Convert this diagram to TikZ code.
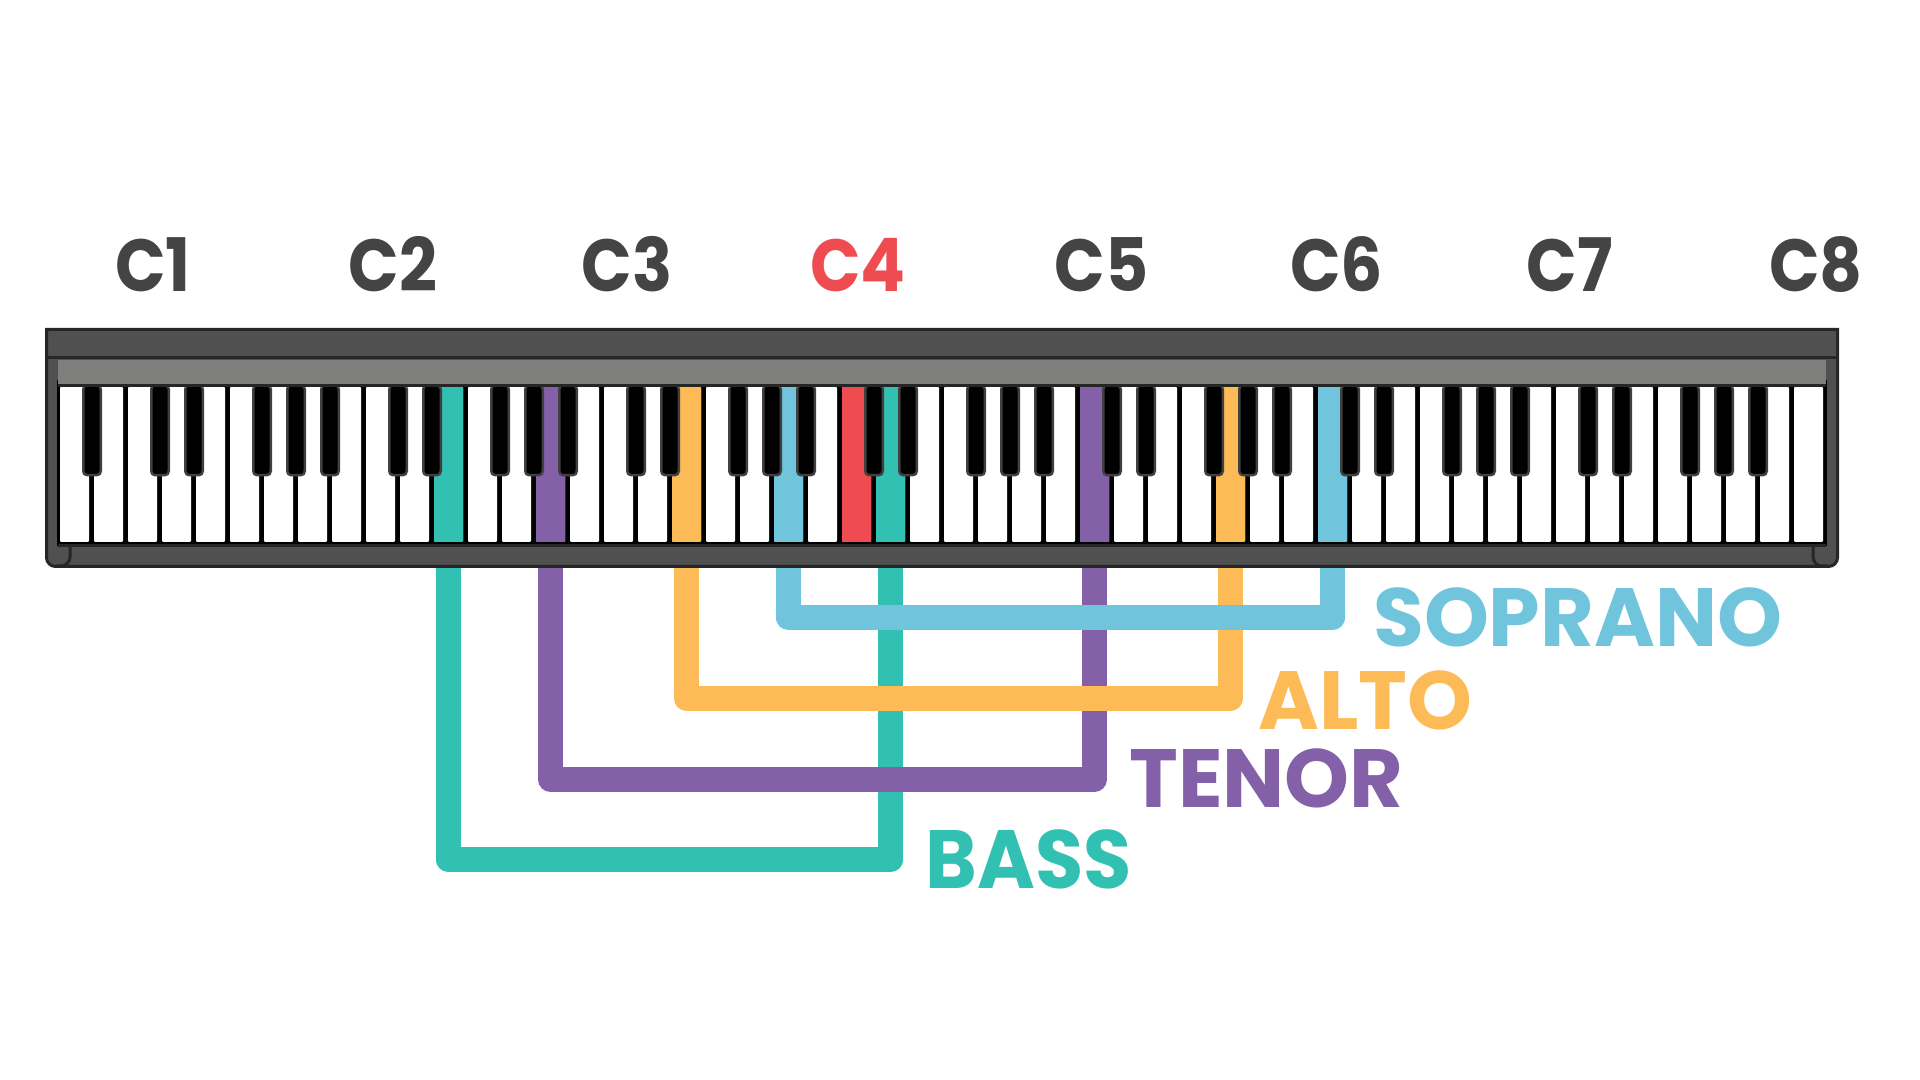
\documentclass[tikz,border=0pt]{standalone}
\usepackage{fontspec}
\setmainfont{Poppins Bold}
\newfontfamily\octavefont{Poppins Bold}[FakeStretch=0.9]
\newfontfamily\bassfont{Poppins Bold}[FakeStretch=0.95]

\definecolor{bassteal}{HTML}{32C0B3}
\definecolor{tenorpurple}{HTML}{8460A8}
\definecolor{altoorange}{HTML}{FDBB57}
\definecolor{sopranoblue}{HTML}{70C4DC}
\definecolor{middlered}{HTML}{EE4C50}
\definecolor{casegray}{HTML}{505050}
\definecolor{bargray}{HTML}{7E7F7D}
\definecolor{labelgray}{HTML}{444444}

\begin{document}
\begin{tikzpicture}
        % Define styles
        \tikzset{
            whitekey/.style={rectangle, fill=white, minimum width=0.29cm, minimum height=1.55cm, inner sep=0pt, rounded corners=0.1mm},
            blackkey/.style={rectangle, fill=black, draw=black!75, line width=0.25mm, minimum width=0.175cm, minimum height=0.90cm, inner sep=0pt, anchor=north, rounded corners=0.4mm},
            frameline/.style={draw=black!85, line width=0.3mm},
            voice/.style={line width=2.5mm, line join=round},
            octave/.style={font=\fontsize{21}{24}\octavefont, text=labelgray, inner sep=0pt, anchor=base},
            voicename/.style={font=\fontsize{23.5}{26}\selectfont, inner sep=0pt, anchor=base west}
        }
        \useasboundingbox (0,0) rectangle (19.2,10.8);

        % Case
        \draw[frameline, fill=casegray] (0.465,7.505) -- (18.375,7.505) [rounded corners=0.9mm] -- (18.375,5.135) -- (0.465,5.135) [sharp corners] -- cycle;
        \draw[frameline] (0.465,7.22) -- (18.375,7.22);
        \fill[black] (0.57,5.34) rectangle (18.27,7.00);
        \draw[frameline] (0.70,5.34) -- (0.70,5.23) arc[start angle=0, end angle=-90, radius=0.09] -- (0.56,5.14);
        \draw[frameline] (18.13,5.34) -- (18.13,5.23) arc[start angle=180, end angle=270, radius=0.09] -- (18.27,5.14);
        \coordinate (case_bottom) at (0,5.12);

        % Keys
        \foreach \i in {0,...,51} {
            \node[whitekey] (key_\i) at ({0.745+0.34*\i},6.155) {};
        }
        \node[whitekey, fill=bassteal] (key_11) at ({0.745+0.34*11},6.155) {};
        \node[whitekey, fill=tenorpurple] (key_14) at ({0.745+0.34*14},6.155) {};
        \node[whitekey, fill=altoorange] (key_18) at ({0.745+0.34*18},6.155) {};
        \node[whitekey, fill=sopranoblue] (key_21) at ({0.745+0.34*21},6.155) {};
        \node[whitekey, fill=middlered] (key_23) at ({0.745+0.34*23},6.155) {};
        \node[whitekey, fill=bassteal] (key_24) at ({0.745+0.34*24},6.155) {};
        \node[whitekey, fill=tenorpurple] (key_30) at ({0.745+0.34*30},6.155) {};
        \node[whitekey, fill=altoorange] (key_34) at ({0.745+0.34*34},6.155) {};
        \node[whitekey, fill=sopranoblue] (key_37) at ({0.745+0.34*37},6.155) {};

        \node[blackkey] (sharp_1) at ({0.58+0.34*1},6.96) {};
        \foreach \k in {0,...,6} {
            \foreach \b in {3,4,6,7,8} {
                \node[blackkey] (sharp_\k_\b) at ({0.58+0.34*(\b+7*\k)},6.96) {};
            }
        }
        \fill[bargray] (0.58,6.94) rectangle (18.26,7.20);
        \draw[black!85, line width=0.3mm] (0.58,6.94) -- (18.26,6.94);
        \draw[black!85, line width=0.3mm] (0.58,5.34) -- (18.26,5.34);

        % Octave labels
        \node[octave] (label_c1) at (1.53,7.88) {C1};
        \node[octave] (label_c2) at (3.93,7.88) {C2};
        \node[octave] (label_c3) at (6.27,7.88) {C3};
        \node[octave, text=middlered] (label_c4) at (8.58,7.88) {C4};
        \node[octave] (label_c5) at (11.015,7.88) {C5};
        \node[octave] (label_c6) at (13.365,7.88) {C6};
        \node[octave] (label_c7) at (15.70,7.88) {C7};
        \node[octave] (label_c8) at (18.16,7.88) {C8};

        % Voice ranges
        \coordinate (bass_level) at (0,2.20);
        \coordinate (tenor_level) at (0,3.005);
        \coordinate (alto_level) at (0,3.815);
        \coordinate (soprano_level) at (0,4.62);
        \draw[voice, bassteal] (key_11 |- case_bottom) -- (key_11 |- bass_level) -- (key_24 |- bass_level) -- (key_24 |- case_bottom);
        \draw[voice, tenorpurple] (key_14 |- case_bottom) -- (key_14 |- tenor_level) -- (key_30 |- tenor_level) -- (key_30 |- case_bottom);
        \draw[voice, altoorange] (key_18 |- case_bottom) -- (key_18 |- alto_level) -- (key_34 |- alto_level) -- (key_34 |- case_bottom);
        \draw[voice, sopranoblue] (key_21 |- case_bottom) -- (key_21 |- soprano_level) -- (key_37 |- soprano_level) -- (key_37 |- case_bottom);

        % Voice names
        \node[voicename, text=sopranoblue] (name_soprano) at (13.725,4.33) {SOPRANO};
        \node[voicename, text=altoorange] (name_alto) at (12.575,3.50) {ALTO};
        \node[voicename, text=tenorpurple] (name_tenor) at (11.285,2.72) {TENOR};
        \node[voicename, text=bassteal, font=\fontsize{23.5}{26}\bassfont] (name_bass) at (9.25,1.91) {BASS};
\end{tikzpicture}
\end{document}
